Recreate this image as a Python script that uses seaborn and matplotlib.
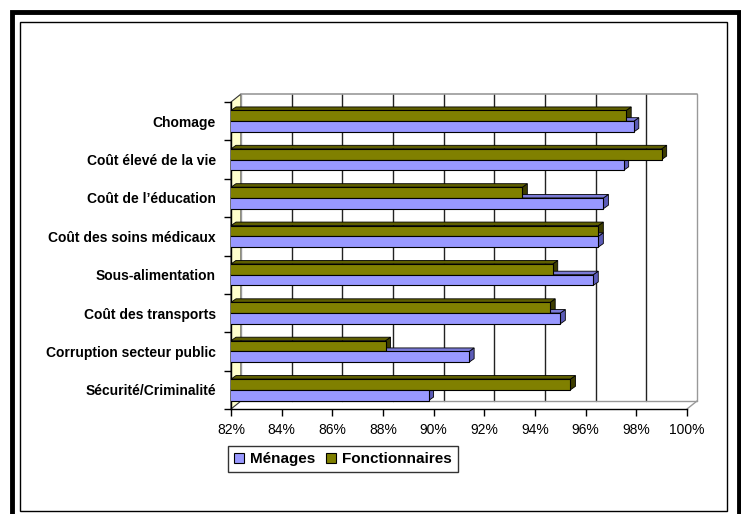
import numpy as np
import pandas as pd
import matplotlib
matplotlib.use("Agg")
import matplotlib.pyplot as plt
import seaborn as sns
from matplotlib.patches import Patch, Polygon, Rectangle
from matplotlib.transforms import ScaledTranslation

sns.set_theme(style="white")
plt.rcParams["font.family"] = ["Liberation Sans", "DejaVu Sans"]
plt.rcParams["text.color"] = "black"
plt.rcParams["xtick.color"] = "black"
plt.rcParams["ytick.color"] = "black"

# %% data
categories = [
    "Chomage",
    "Coût élevé de la vie",
    "Coût de l’éducation",
    "Coût des soins médicaux",
    "Sous-alimentation",
    "Coût des transports",
    "Corruption secteur public",
    "Sécurité/Criminalité",
]
menages = [97.9, 97.5, 96.7, 96.5, 96.3, 95.0, 91.4, 89.8]
fonctionnaires = [97.6, 99.0, 93.5, 96.5, 94.7, 94.6, 88.1, 95.4]
series = ["Ménages", "Fonctionnaires"]
colors = {"Ménages": "#9999FF", "Fonctionnaires": "#808000"}
side_colors = {"Ménages": "#5C5CB8", "Fonctionnaires": "#3D3D00"}
top_colors = {"Ménages": "#7A7AD6", "Fonctionnaires": "#5E5E00"}
xticks = list(range(82, 101, 2))

df = pd.DataFrame({
    "cat": categories * 2,
    "val": menages + fonctionnaires,
    "serie": ["Ménages"] * len(categories) + ["Fonctionnaires"] * len(categories),
})

# %% figure
W, H, DPI = 741, 514, 100
fig = plt.figure(figsize=(W / DPI, H / DPI), dpi=DPI)
ax = fig.add_axes([231 / W, 105 / H, 456 / W, 307 / H])
ax.set_facecolor("none")

# back wall offset (pixels)
DX, DY = 10, 8
off = ScaledTranslation(DX / DPI, DY / DPI, fig.dpi_scale_trans)
xtr = ax.get_xaxis_transform() + off

for x in xticks:
    c = "#999999" if x in (82, 100) else "#222222"
    ax.plot([x, x], [0, 1], transform=xtr, color=c, lw=1.0, zorder=0.5,
            clip_on=False)
ax.plot([82, 100], [1, 1], transform=xtr, color="#999999", lw=1.2, zorder=0.5,
        clip_on=False)
ax.plot([82, 100], [0, 0], transform=xtr, color="#999999", lw=1.0, zorder=0.5,
        clip_on=False)


def px(x, y):
    return fig.transFigure.inverted().transform(
        fig.dpi_scale_trans.transform((x / DPI, (H - y) / DPI)))


# left wall (pale yellow), behind the bars
wall = [px(231, 102), px(231, 409), px(231 + DX, 409 - DY), px(231 + DX, 102 - DY)]
ax.add_patch(Polygon(wall, closed=True, transform=fig.transFigure,
                     facecolor="#FFFFCC", edgecolor="#333333", lw=0.8,
                     zorder=0.4, clip_on=False))
# floor edge on the right
p0, p1 = px(687, 409), px(687 + DX, 409 - DY)
ax.plot([p0[0], p1[0]], [p0[1], p1[1]], transform=fig.transFigure,
        color="#999999", lw=1, clip_on=False, zorder=0.5)

# bars
sns.barplot(data=df, y="cat", x="val", hue="serie",
            hue_order=["Fonctionnaires", "Ménages"],
            palette=colors, orient="y", width=0.56,
            edgecolor="black", linewidth=0.8, saturation=1,
            legend=False, ax=ax, zorder=3)
ax.set_xlim(82, 100)
ax.set_ylim(len(categories) - 0.5, -0.5)

# 3D faces on each bar
dxd = 5 / (456 / 18)
dyd = 3.5 / (307 / len(categories))
for cont, name in zip(ax.containers, ["Fonctionnaires", "Ménages"]):
    for p in cont.patches:
        y0 = p.get_y()
        x1 = p.get_x() + p.get_width()
        h = p.get_height()
        side = [(x1, y0), (x1, y0 + h), (x1 + dxd, y0 + h - dyd), (x1 + dxd, y0 - dyd)]
        top = [(82, y0), (x1, y0), (x1 + dxd, y0 - dyd), (82 + dxd, y0 - dyd)]
        ax.add_patch(Polygon(side, closed=True, facecolor=side_colors[name],
                             edgecolor="black", lw=0.6, zorder=2.9))
        ax.add_patch(Polygon(top, closed=True, facecolor=top_colors[name],
                             edgecolor="black", lw=0.6, zorder=2.9, clip_on=False))

# axes styling
for s in ["top", "right"]:
    ax.spines[s].set_visible(False)
ax.spines["left"].set_color("black")
ax.spines["bottom"].set_color("black")
ax.spines["left"].set_linewidth(1)
ax.spines["bottom"].set_linewidth(1)
ax.set_xticks(xticks)
ax.set_xticklabels([f"{x}%" for x in xticks], fontsize=10, color="black")
ax.set_yticks(np.arange(len(categories)))
ax.set_yticklabels(categories, fontsize=10, fontweight="bold", color="black")
ax.set_yticks(np.arange(-0.5, len(categories), 1), minor=True)
ax.tick_params(axis="y", which="major", length=0, pad=11)
ax.tick_params(axis="y", which="minor", length=5, width=1, color="black", left=True)
ax.tick_params(axis="x", length=5, width=1, color="black", bottom=True, pad=5)
ax.set_xlabel("")
ax.set_ylabel("")

# legend
handles = [Patch(facecolor=colors[s], edgecolor="black", lw=0.8) for s in series]
leg = fig.legend(handles, series, loc="upper left",
                 bbox_to_anchor=(228 / W, 1 - 446 / H), ncol=2,
                 prop={"weight": "bold", "size": 11}, frameon=True, fancybox=False,
                 handlelength=0.65, handleheight=0.65, handletextpad=0.4,
                 columnspacing=0.7, borderpad=0.4, borderaxespad=0)
leg.get_frame().set_edgecolor("black")
leg.get_frame().set_linewidth(1)

# figure frames
fig.patches.append(Rectangle((11.5 / W, -0.05), (738.5 - 11.5) / W, 1 - 11.5 / H + 0.05,
                             transform=fig.transFigure, fill=False,
                             edgecolor="black", lw=3.5))
fig.patches.append(Rectangle((20 / W, 3.5 / H), (727 - 20) / W, (511 - 22) / H,
                             transform=fig.transFigure, fill=False,
                             edgecolor="black", lw=1))

fig.savefig("out.png", dpi=DPI)
